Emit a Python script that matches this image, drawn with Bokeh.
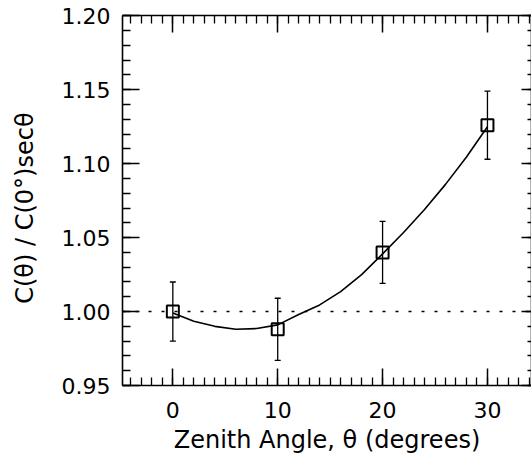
from bokeh.plotting import figure
from bokeh.models import (Range1d, LinearAxis, SingleIntervalTicker, Span,
                          Whisker, TeeHead, ColumnDataSource, PrintfTickFormatter,
                          CustomJSTickFormatter)
from bokeh.embed import file_html
from bokeh.resources import INLINE

# ---- data ----
angles = [0, 10, 20, 30]
ratio = [1.000, 0.988, 1.040, 1.126]
ratio_err = [0.020, 0.021, 0.021, 0.023]

fit_angle = [0, 2, 4, 6, 8, 10, 12, 14, 16, 18, 20, 22, 24, 26, 28, 30]
fit_ratio = [0.999, 0.9935, 0.990, 0.988, 0.9885, 0.991, 0.998, 1.0045,
             1.0135, 1.025, 1.039, 1.0535, 1.069, 1.086, 1.1045, 1.125]

reference_level = 1.0

x_ticks_major = 10
x_ticks_minor = 10
y_ticks_major = 0.05
y_ticks_minor = 5

FONT = "DejaVu Sans"

p = figure(width=531, height=460, output_backend="svg", toolbar_location=None,
           x_range=Range1d(-4.8, 34.2), y_range=Range1d(0.95, 1.2002),
           min_border_left=122, min_border_right=0, min_border_top=15,
           min_border_bottom=75, x_axis_location=None, y_axis_location=None)
p.grid.visible = False
p.outline_line_color = None
p.background_fill_color = "white"
p.border_fill_color = "white"

blank = CustomJSTickFormatter(code="return '';")


def style_axis(ax, show_labels):
    ax.axis_line_color = "black"
    ax.axis_line_width = 1.6
    ax.major_tick_line_color = "black"
    ax.major_tick_line_width = 1.5
    ax.minor_tick_line_color = "black"
    ax.minor_tick_line_width = 1.3
    ax.major_tick_in = 17
    ax.major_tick_out = 0
    ax.minor_tick_in = 8
    ax.minor_tick_out = 0
    if show_labels:
        ax.major_label_text_font = FONT
        ax.major_label_text_font_size = "22px"
        ax.major_label_text_color = "black"
        ax.axis_label_text_font = FONT
        ax.axis_label_text_font_size = "24px"
        ax.axis_label_text_font_style = "normal"
        ax.axis_label_text_color = "black"
    else:
        ax.formatter = blank
        ax.major_label_standoff = 0
        ax.axis_label = None


def xt():
    return SingleIntervalTicker(interval=x_ticks_major, num_minor_ticks=x_ticks_minor)


def yt():
    return SingleIntervalTicker(interval=y_ticks_major, num_minor_ticks=y_ticks_minor)


bottom = LinearAxis(ticker=xt(), axis_label="Zenith Angle, θ (degrees)")
style_axis(bottom, True)
bottom.major_label_standoff = 16
bottom.axis_label_standoff = 5
p.add_layout(bottom, "below")

top = LinearAxis(ticker=xt())
style_axis(top, False)
p.add_layout(top, "above")

left = LinearAxis(ticker=yt(), axis_label="C(θ)  /  C(0°)secθ",
                  formatter=PrintfTickFormatter(format="%.2f"))
style_axis(left, True)
left.major_label_standoff = 12
left.axis_label_standoff = 20
p.add_layout(left, "left")

right = LinearAxis(ticker=yt())
style_axis(right, False)
right.major_tick_in = 10
right.minor_tick_in = 4
p.add_layout(right, "right")

p.add_layout(Span(location=reference_level, dimension="width",
                  line_color="black", line_width=1.5, line_dash="3 10"))

p.line(fit_angle, fit_ratio, line_color="black", line_width=1.6)

src = ColumnDataSource(dict(
    x=angles, y=ratio,
    lo=[r - e for r, e in zip(ratio, ratio_err)],
    hi=[r + e for r, e in zip(ratio, ratio_err)],
))
w = Whisker(base="x", lower="lo", upper="hi", source=src,
            line_color="black", line_width=1.3,
            lower_head=TeeHead(size=6, line_color="black", line_width=1.3),
            upper_head=TeeHead(size=6, line_color="black", line_width=1.3))
p.add_layout(w)

p.scatter("x", "y", source=src, marker="square", size=12,
          fill_alpha=0, line_color="black", line_width=2)

open("out.html", "w").write(file_html(p, INLINE))
